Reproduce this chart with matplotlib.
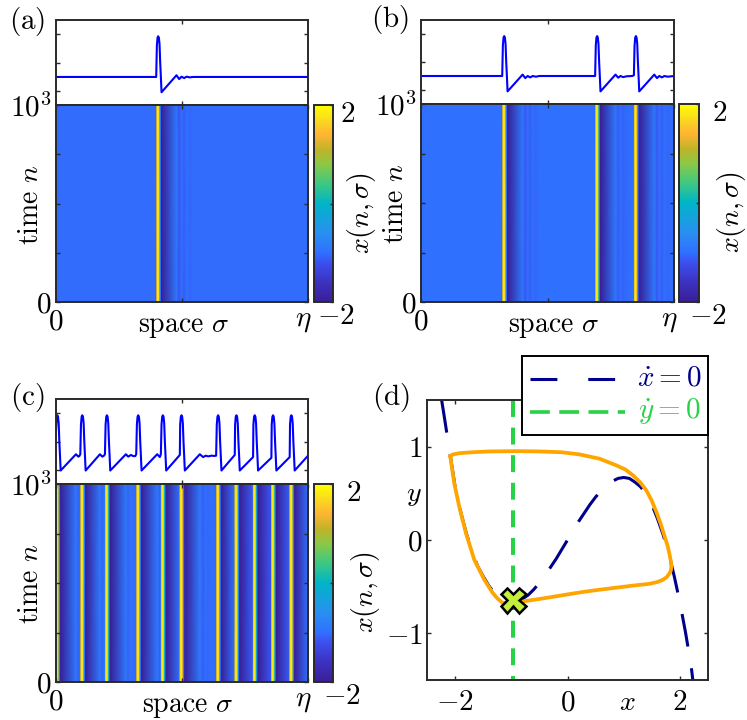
import matplotlib
matplotlib.use("Agg")
import matplotlib.pyplot as plt
import matplotlib.transforms as mtrans
import numpy as np
from matplotlib.colors import LinearSegmentedColormap

plt.rcParams['mathtext.fontset'] = 'cm'
plt.rcParams['font.family'] = ['cmr10', 'DejaVu Sans']
plt.rcParams['axes.formatter.use_mathtext'] = True

# ---------- data ----------
ETA = 757
sigma_a = [0, 301, 303, 305, 307, 309, 311, 313, 315, 317,
           362, 370, 377, 385, 392, 402, 412, 757]
trace_a = [-1.02, -1.02, 1.2, 1.75, 1.85, 1.75, 1.3, 0.0, -1.0, -2.1,
           -0.9, -1.17, -1.0, -1.1, -1.0, -1.05, -1.02, -1.02]

sigma_b = [0, 243, 245, 247, 249, 251, 253, 255, 257, 259,
           304, 312, 319, 327, 334, 344, 354,
           521, 523, 525, 527, 529, 531, 533, 535, 537,
           582, 590, 597, 605, 615, 632,
           637, 639, 641, 643, 645, 647, 649, 651, 653,
           698, 706, 713, 721, 728, 738, 757]
trace_b = [-1.0, -1.0, 1.2, 1.75, 1.85, 1.75, 1.3, 0.0, -1.0, -2.1,
           -0.9, -1.15, -1.0, -1.1, -1.0, -1.05, -1.0,
           -1.0, 1.2, 1.75, 1.85, 1.75, 1.3, 0.0, -1.0, -2.1,
           -0.9, -1.12, -1.0, -1.08, -1.02, -1.0,
           -0.95, 1.2, 1.75, 1.85, 1.75, 1.3, 0.0, -1.0, -2.1,
           -0.9, -1.15, -1.0, -1.1, -1.0, -1.05, -1.0]

sigma_c = [0, 2, 4, 6, 8, 10, 12, 14,
           60, 67, 70, 73, 75, 77, 79, 81, 83, 85, 87, 89,
           132, 139, 144, 147, 149, 151, 153, 155, 157, 159, 161, 163,
           210, 217, 225, 232, 238, 241, 243, 245, 247, 249, 251, 253, 255, 257,
           304, 312, 315, 317, 319, 321, 323, 325, 327, 329, 331,
           372, 373, 375, 377, 379, 381, 383, 385, 387,
           432, 442, 450, 457, 467, 476, 481, 483, 485, 487, 489, 491, 493, 495, 497,
           537, 538, 540, 542, 544, 546, 548, 550, 552,
           592, 593, 595, 597, 599, 601, 603, 605, 607,
           647, 648, 650, 652, 654, 656, 658, 660, 662,
           702, 703, 705, 707, 709, 711, 713, 715, 717, 757]
trace_c = [0.8, 1.75, 1.85, 1.75, 1.3, 0.0, -1.0, -2.05,
           -0.9, -1.07, -1.03, -0.9, 1.2, 1.75, 1.85, 1.75, 1.3, 0.0, -1.0, -2.05,
           -0.9, -1.07, -1.0, -0.9, 1.2, 1.75, 1.85, 1.75, 1.3, 0.0, -1.0, -2.05,
           -0.9, -1.07, -0.95, -1.03, -1.03, -0.9, 1.2, 1.75, 1.85, 1.75, 1.3, 0.0, -1.0, -2.05,
           -0.9, -1.1, -0.9, 1.2, 1.75, 1.85, 1.75, 1.3, 0.0, -1.0, -2.05,
           -0.95, 1.2, 1.75, 1.85, 1.75, 1.3, 0.0, -1.0, -2.05,
           -0.9, -1.1, -1.0, -1.05, -1.0, -1.02, -1.0, 1.2, 1.75, 1.85, 1.75, 1.3, 0.0, -1.0, -2.05,
           -0.95, 1.2, 1.75, 1.85, 1.75, 1.3, 0.0, -1.0, -2.05,
           -1.1, 1.2, 1.75, 1.85, 1.75, 1.3, 0.0, -1.0, -2.05,
           -1.15, 1.2, 1.75, 1.85, 1.75, 1.3, 0.0, -1.0, -2.05,
           -1.1, 1.2, 1.75, 1.85, 1.75, 1.3, 0.0, -1.0, -2.05, -1.0]

null_x = [-2.24, -2.2, -2.1, -2.0, -1.9, -1.8, -1.7, -1.6, -1.5, -1.4, -1.3, -1.2, -1.1, -1.0, -0.9, -0.8, -0.7, -0.6, -0.5,
          -0.4, -0.3, -0.2, -0.1, 0.0, 0.1, 0.2, 0.3, 0.4, 0.5, 0.6, 0.7, 0.8, 0.9, 1.0, 1.1, 1.2, 1.3, 1.4, 1.5, 1.6,
          1.7, 1.8, 1.9, 2.0, 2.1, 2.2, 2.23]
null_y = [1.5, 1.35, 0.96, 0.57, 0.30, 0.07, -0.12, -0.28, -0.39, -0.49, -0.57, -0.62, -0.66, -0.67, -0.66, -0.63, -0.59, -0.53, -0.46,
          -0.38, -0.29, -0.2, -0.1, 0.0, 0.1, 0.2, 0.29, 0.38, 0.46, 0.53, 0.59, 0.63, 0.66, 0.67, 0.66, 0.62, 0.57, 0.49, 0.38, 0.23,
          0.06, -0.14, -0.39, -0.67, -0.99, -1.35, -1.5]
cycle_x = [-2.086, -2.05, -1.925, -1.70, -1.39, -0.90, -0.50, -0.10, 0.214, 0.57, 0.868, 1.03, 1.164, 1.29, 1.402, 1.50, 1.58,
           1.66, 1.73, 1.78, 1.818, 1.84, 1.848, 1.84, 1.818, 1.77, 1.70, 1.60, 1.46, 1.15, 0.808, 0.50, 0.214, -0.15, -0.50, -0.797,
           -0.97, -1.153, -1.24, -1.33, -1.48, -1.658, -1.806, -1.925, -2.014, -2.086]
cycle_y = [0.895, 0.915, 0.93, 0.94, 0.949, 0.952, 0.949, 0.94, 0.917, 0.871, 0.80, 0.755, 0.693, 0.62, 0.533, 0.42, 0.302,
           0.17, 0.035, -0.06, -0.16, -0.23, -0.284, -0.325, -0.355, -0.395, -0.426, -0.45, -0.469, -0.49, -0.515, -0.538, -0.562, -0.598, -0.632, -0.658,
           -0.675, -0.675, -0.63, -0.568, -0.426, -0.213, 0.071, 0.355, 0.604, 0.895]
fix_x = [-0.975]
fix_y = [-0.64]
nullcline_y_x = [-0.97, -0.97]
nullcline_y_y = [1.5, -1.5]

cb_stops = [0.0, 0.1, 0.2, 0.25, 0.35, 0.5, 0.6, 0.7, 0.77, 0.85, 0.93, 1.0]
cb_colors = ['#3a1e96', '#3c32c0', '#3c50f0', '#3070ff', '#2890f0', '#00b4c8', '#3cc882', '#8cc846',
             '#bcb428', '#ffb432', '#fadc1e', '#ffff00']
cmap = LinearSegmentedColormap.from_list('field', list(zip(cb_stops, cb_colors)))

W, H = 747, 720
fig = plt.figure(figsize=(W / 100, H / 100), dpi=100)
DARK = '#2a2a2a'
FS = 21
LAB = 19


def box(x0, y0, x1, y1):
    return [x0 / W, 1 - y1 / H, (x1 - x0) / W, (y1 - y0) / H]


def px_text(x, y, s, size=FS, **kw):
    kw.setdefault('ha', 'center')
    kw.setdefault('va', 'center')
    return fig.text(x / W, 1 - y / H, s, fontsize=size, **kw)


def style(ax):
    for s in ax.spines.values():
        s.set_color(DARK)
        s.set_linewidth(1.4)
    ax.tick_params(direction='in', length=3, width=1.0, color=DARK, top=True, right=True,
                   labelsize=FS, pad=3)


def panel(geom, sig, tr, letter, letter_xy, lab):
    x0, y_top, y_mid, y_bot, x1, cx0, cx1 = geom
    axt = fig.add_axes(box(x0, y_top, x1, y_mid))
    axt.plot(sig, tr, color='#0000ff', lw=1.5)
    axt.set_xlim(0, ETA)
    axt.set_ylim(-3, 3)
    axt.set_xticks([ETA / 2])
    axt.set_yticks([-2, 0, 2])
    axt.set_xticklabels([])
    axt.set_yticklabels([])
    style(axt)

    ax = fig.add_axes(box(x0, y_mid, x1, y_bot))
    s = np.array(sig, dtype=float)
    v = np.array(tr)
    mesh = ax.pcolormesh(s, [0, 1000], np.vstack([v, v]), cmap=cmap, vmin=-2, vmax=2, shading='gouraud')
    ax.set_xlim(0, ETA)
    ax.set_ylim(0, 1000)
    ax.set_xticks([0, ETA / 2, ETA])
    ax.set_xticklabels([r'$0$', '', ''])
    ax.set_yticks([0, 250, 500, 750, 1000])
    ax.set_yticklabels([r'$0$', '', '', '', r'$10^3$'])
    style(ax)
    ax.tick_params(axis='x', pad=5)

    cax = fig.add_axes(box(cx0, y_mid, cx1, y_bot))
    cb = fig.colorbar(mesh, cax=cax, ticks=[-2, 0, 2])
    cb.ax.set_yticklabels([r'$-2$', '', r'$2$'])
    cb.outline.set_edgecolor(DARK)
    cb.outline.set_linewidth(1.4)
    cax.tick_params(direction='in', length=2, width=1.0, color=DARK, labelsize=FS, pad=lab[2])
    labels = cax.get_yticklabels()
    for t, dy in zip(labels, (-2, 0, 3)):
        t.set_ha('right')
        t.set_va('top')
        t.set_transform(t.get_transform() + mtrans.Affine2D().translate(0, dy))

    px_text(x1 - 5, y_bot + 19, r'$\eta$')
    px_text(x0 + lab[0], y_bot + 25, r'$\mathrm{space}\ \sigma$', size=LAB + 1)
    px_text(x0 - 25, y_mid + 100, r'$\mathrm{time}\ n$', size=LAB + 1, rotation=90)
    px_text(x1 + lab[1], y_mid + 108, r'$x(n,\sigma)$', size=LAB + 1, rotation=90)
    px_text(letter_xy[0], letter_xy[1], r'$\mathrm{(%s)}$' % letter, size=21)
    return ax


panel((56, 20, 105, 302, 308, 314, 333), sigma_a, trace_a, 'a', (27, 22), (127, 54, 16))
panel((421, 20, 104, 302, 674, 679, 699), sigma_b, trace_b, 'b', (390, 20), (132, 58, 20))
panel((56, 399, 484, 682, 308, 314, 333), sigma_c, trace_c, 'c', (27, 397), (131, 58, 20))

ax = fig.add_axes(box(427, 400, 708, 680))
ax.plot(null_x, null_y, color='#00008c', lw=2.2, dashes=(10.8, 7.2))
ax.plot(nullcline_y_x, nullcline_y_y, color='#28d246', lw=2.9, dashes=(4.2, 2.65))
ax.plot(cycle_x, cycle_y, color='#ffa500', lw=2.7, zorder=3, solid_joinstyle='round')
ax.plot(fix_x, fix_y, marker='X', ms=18, mfc='#c4f03c', mec='black', mew=1.8, ls='none', zorder=4)
ax.set_xlim(-2.5, 2.5)
ax.set_ylim(-1.5, 1.5)
ax.set_xticks([-2, 0, 2])
ax.set_yticks([-1, 0, 1])
ax.set_xticklabels([r'$-2$', r'$0$', r'$2$'])
ax.set_yticklabels([r'$-1$', r'$0$', r'$1$'])
style(ax)
ax.tick_params(axis='x', pad=7)
px_text(627, 703, r'$x$', size=LAB + 1)
px_text(414, 495, r'$y$', size=LAB + 1)
px_text(391, 397, r'$\mathrm{(d)}$', size=21)

lax = fig.add_axes(box(522, 356, 708, 435), zorder=5)
lax.set_xticks([])
lax.set_yticks([])
for s in lax.spines.values():
    s.set_color('black')
    s.set_linewidth(1.4)
lax.set_xlim(0, 186)
lax.set_ylim(79, 0)
lax.plot([8, 103], [23, 23], color='#00008c', lw=2.2, dashes=(8.8, 10.1))
lax.plot([8, 103], [56, 56], color='#28d246', lw=2.6, dashes=(5.5, 2.6))
lax.text(147, 22, r'$\dot{x}=0$', color='#00008c', fontsize=21, ha='center', va='center')
lax.text(147, 55, r'$\dot{y}=0$', color='#28d246', fontsize=21, ha='center', va='center')

fig.savefig('out.png', dpi=100)
